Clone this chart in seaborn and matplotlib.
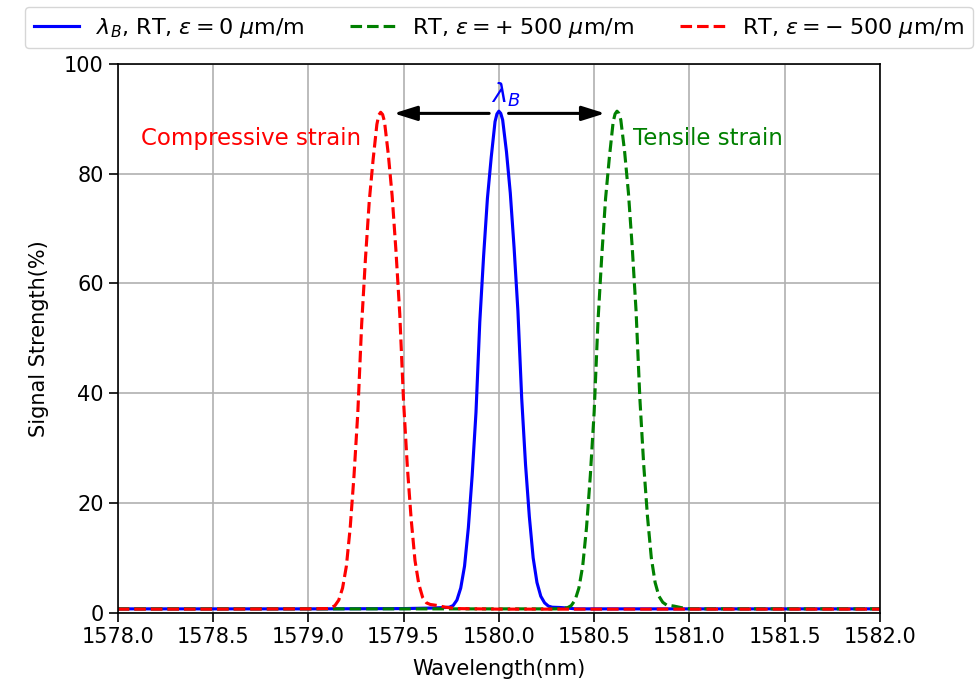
import matplotlib
matplotlib.use("Agg")
import matplotlib.pyplot as plt
import seaborn as sns
import pandas as pd

# FBG reflection spectra: unstrained (room temperature) and +/-500 µm/m strain
wl_rt = [1578.0, 1578.5, 1579.0, 1579.5, 1579.65, 1579.72, 1579.74, 1579.76,
         1579.78, 1579.80, 1579.82, 1579.84, 1579.86, 1579.88, 1579.90, 1579.92,
         1579.94, 1579.96, 1579.98, 1579.99, 1580.00, 1580.01, 1580.02, 1580.04,
         1580.06, 1580.08, 1580.10, 1580.12, 1580.14, 1580.16, 1580.18, 1580.20,
         1580.22, 1580.24, 1580.26, 1580.28, 1580.32, 1580.36, 1580.40, 1580.5,
         1581.0, 1581.5, 1582.0]
sig_rt = [0.7, 0.7, 0.7, 0.75, 0.85, 0.95, 1.0, 1.3,
          2.3, 4.5, 8.5, 15.5, 25.0, 36.5, 53.0, 65.0,
          75.5, 83.0, 89.5, 90.9, 91.4, 91.0, 89.8, 84.0,
          76.5, 66.5, 55.0, 39.0, 27.0, 17.5, 10.0, 5.5,
          3.0, 1.8, 1.2, 1.0, 0.95, 0.85, 0.7, 0.7,
          0.7, 0.7, 0.7]

wl_tens = [1578.0, 1578.5, 1579.0, 1579.5, 1580.0, 1580.30, 1580.36, 1580.38,
           1580.40, 1580.42, 1580.44, 1580.46, 1580.48, 1580.50, 1580.52, 1580.54,
           1580.56, 1580.58, 1580.60, 1580.61, 1580.62, 1580.63, 1580.64, 1580.66,
           1580.68, 1580.70, 1580.72, 1580.74, 1580.76, 1580.78, 1580.80, 1580.82,
           1580.84, 1580.86, 1580.88, 1580.92, 1580.96, 1581.0, 1581.5, 1582.0]
sig_tens = [0.7, 0.7, 0.7, 0.7, 0.7, 0.7, 0.9, 1.3,
            2.3, 4.5, 8.5, 15.5, 25.0, 36.5, 53.0, 65.0,
            75.5, 83.0, 89.5, 90.9, 91.4, 91.0, 89.8, 84.0,
            76.5, 66.5, 55.0, 39.0, 27.0, 17.5, 10.0, 5.5,
            3.0, 1.9, 1.4, 1.2, 0.9, 0.7, 0.7, 0.7]

wl_comp = [1578.0, 1578.5, 1579.0, 1579.10, 1579.12, 1579.14, 1579.16, 1579.18,
           1579.20, 1579.22, 1579.24, 1579.26, 1579.28, 1579.30, 1579.32, 1579.34,
           1579.36, 1579.37, 1579.38, 1579.39, 1579.40, 1579.42, 1579.44, 1579.46,
           1579.48, 1579.50, 1579.52, 1579.54, 1579.56, 1579.58, 1579.60, 1579.62,
           1579.64, 1579.68, 1579.72, 1579.78, 1580.0, 1580.5, 1581.0, 1581.5,
           1582.0]
sig_comp = [0.65, 0.65, 0.7, 0.75, 0.9, 1.3, 2.3, 4.5,
            8.5, 15.5, 25.0, 36.5, 52.5, 64.5, 75.0, 82.5,
            89.0, 90.7, 91.2, 90.8, 89.5, 83.5, 76.0, 66.0,
            54.5, 38.5, 26.5, 17.0, 9.5, 5.2, 2.8, 1.8,
            1.5, 1.3, 1.0, 0.75, 0.65, 0.65, 0.65, 0.65,
            0.65]

x_ticks = [1578.0, 1578.5, 1579.0, 1579.5, 1580.0, 1580.5, 1581.0, 1581.5, 1582.0]
y_ticks = [0, 20, 40, 60, 80, 100]

labels = [r"$\lambda_B$, RT, $\varepsilon = 0\ \mu$m/m",
          r"RT, $\varepsilon = +\;500\ \mu$m/m",
          r"RT, $\varepsilon = -\;500\ \mu$m/m"]

FS = 15

plt.rcParams.update({
    "font.family": ["DejaVu Sans"],
    "mathtext.fontset": "dejavusans",
    "axes.linewidth": 1.2,
    "xtick.major.width": 1.2,
    "ytick.major.width": 1.2,
    "xtick.major.size": 6.5,
    "ytick.major.size": 6.5,
})

fig = plt.figure(figsize=(9.78, 6.82), dpi=100)
ax = fig.add_axes([117.7 / 978, 1 - 612.7 / 682, (880 - 117.7) / 978, (612.7 - 64) / 682])

df_rt = pd.DataFrame({"wl": wl_rt, "sig": sig_rt})
df_tens = pd.DataFrame({"wl": wl_tens, "sig": sig_tens})
df_comp = pd.DataFrame({"wl": wl_comp, "sig": sig_comp})

sns.lineplot(data=df_rt, x="wl", y="sig", ax=ax, color="blue", lw=2.25, label=labels[0])
sns.lineplot(data=df_tens, x="wl", y="sig", ax=ax, color="green", lw=2.25,
             linestyle="--", label=labels[1])
sns.lineplot(data=df_comp, x="wl", y="sig", ax=ax, color="red", lw=2.25,
             linestyle="--", label=labels[2])

ax.set_xlim(1578, 1582)
ax.set_ylim(0, 100)
ax.set_xticks(x_ticks)
ax.set_xticklabels([f"{t:.1f}" for t in x_ticks])
ax.set_yticks(y_ticks)
ax.tick_params(labelsize=FS)
ax.grid(True, color="#b0b0b0", lw=1.2)
ax.set_axisbelow(True)
ax.set_xlabel("Wavelength(nm)", fontsize=FS, labelpad=9)
ax.set_ylabel("Signal Strength(%)", fontsize=FS, labelpad=11)

# shift arrows from the Bragg wavelength
arrow_kw = dict(arrowstyle="-|>,head_length=0.7,head_width=0.22", color="black",
                lw=2.2, mutation_scale=20, shrinkA=7, shrinkB=0)
ax.annotate("", xy=(1579.449, 91.0), xytext=(1580.0, 91.0), arrowprops=arrow_kw)
ax.annotate("", xy=(1580.557, 91.0), xytext=(1580.0, 91.0), arrowprops=arrow_kw)

ax.text(1580.035, 92.9, r"$\lambda_B$", color="blue", fontsize=18.5,
        ha="center", va="baseline")
ax.text(1579.277, 85.2, "Compressive strain", color="red", fontsize=16.5,
        ha="right", va="baseline")
ax.text(1580.706, 85.2, "Tensile strain", color="green", fontsize=16.5,
        ha="left", va="baseline")

ax.legend(loc="lower center", bbox_to_anchor=(0.5, 1.008), ncol=3, fontsize=16,
          handlelength=2.05, handletextpad=0.75, columnspacing=2.05,
          borderaxespad=0.5, frameon=True)

fig.savefig("out.png", dpi=100)
